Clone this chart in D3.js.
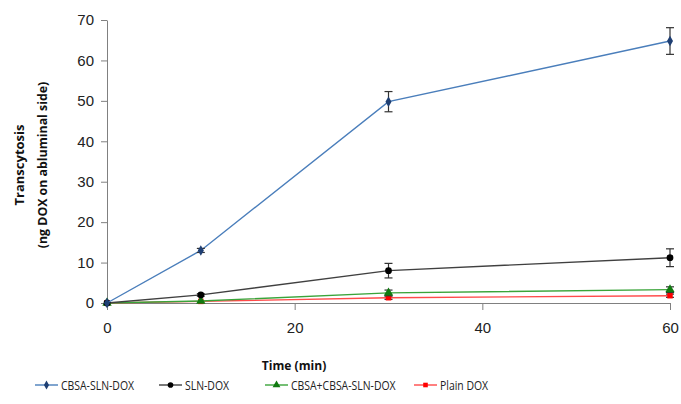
<!DOCTYPE html>
<html>
<head>
<meta charset="utf-8">
<script src="https://cdn.jsdelivr.net/npm/d3@7"></script>
<style>
	body { margin: 0; background: #fff; }
	svg { font-family: 'Open Sans', 'Liberation Sans', sans-serif; }
</style>
</head>
<body>
<div id="vis"></div>
<script>
// DATA
let times = [0, 10, 30, 60];
let seriesNames = ['CBSA-SLN-DOX', 'SLN-DOX', 'CBSA+CBSA-SLN-DOX', 'Plain DOX'];
let cbsaSlnDox = [0, 13, 49.8, 64.8],
	cbsaSlnDoxErr = [0, 0.5, 2.5, 3.3];
let slnDox = [0, 2, 8, 11.2],
	slnDoxErr = [0, 0.3, 1.8, 2.2];
let cbsaPlus = [0, 0.5, 2.5, 3.3],
	cbsaPlusErr = [0, 0.2, 0.7, 0.7];
let plainDox = [0, 0.4, 1.3, 1.8],
	plainDoxErr = [0, 0.2, 0.4, 0.4];
let xTicks = [0, 20, 40, 60];
let yTicks = [0, 10, 20, 30, 40, 50, 60, 70];

// PARAMETERS
let width = 681,
	height = 404,
	margin = { top: 20, right: 11, bottom: 101, left: 107 };

let styles = [
	{ line: '#4a7ebb', mark: '#1f3f73', shape: d3.symbolDiamond, size: 32 },
	{ line: '#404040', mark: '#000', shape: d3.symbolCircle, size: 36 },
	{ line: '#3aa43a', mark: '#117a11', shape: d3.symbolTriangle, size: 38 },
	{ line: '#ff4a4a', mark: '#f00', shape: d3.symbolSquare, size: 30 }
];

let series = [
	{ values: cbsaSlnDox, err: cbsaSlnDoxErr },
	{ values: slnDox, err: slnDoxErr },
	{ values: cbsaPlus, err: cbsaPlusErr },
	{ values: plainDox, err: plainDoxErr }
];

// SCALES
let x = d3.scaleLinear().domain([0, 60]).range([margin.left, width - margin.right]),
	y = d3.scaleLinear().domain([0, 70]).range([height - margin.bottom, margin.top]);

let svg = d3.select('#vis').append('svg').attr('width', width).attr('height', height);

// AXES
let xAxis = svg.append('g')
	.attr('transform', `translate(0, ${y(0)})`)
	.call(d3.axisBottom(x).tickValues(xTicks).tickSize(7).tickSizeOuter(0).tickPadding(12));
let yAxis = svg.append('g')
	.attr('transform', `translate(${x(0)}, 0)`)
	.call(d3.axisLeft(y).tickValues(yTicks).tickSize(6).tickSizeOuter(0).tickPadding(7));

[xAxis, yAxis].forEach(g => {
	g.select('.domain').attr('stroke', '#808080');
	g.selectAll('.tick line').attr('stroke', '#808080');
	g.selectAll('.tick text').attr('fill', '#222').style('font-size', '15px');
});

// LINES
let line = d3.line().x((d, i) => x(times[i])).y(d => y(d));

series.slice().reverse().forEach((s, ri) => {
	let k = series.length - 1 - ri,
		st = styles[k];
	let g = svg.append('g');

	g.append('path')
		.datum(s.values)
		.attr('fill', 'none')
		.attr('stroke', st.line)
		.attr('stroke-width', 1.4)
		.attr('d', line);

	// ERROR BARS
	let eb = g.selectAll('.err')
		.data(s.values.map((v, i) => ({ t: times[i], v: v, e: s.err[i] })).filter(d => d.e > 0.25))
		.enter()
		.append('g')
		.attr('stroke', '#333')
		.attr('stroke-width', 1.2);
	eb.append('line')
		.attr('x1', d => x(d.t)).attr('x2', d => x(d.t))
		.attr('y1', d => y(d.v - d.e)).attr('y2', d => y(d.v + d.e));
	eb.append('line')
		.attr('x1', d => x(d.t) - 4).attr('x2', d => x(d.t) + 4)
		.attr('y1', d => y(d.v - d.e)).attr('y2', d => y(d.v - d.e));
	eb.append('line')
		.attr('x1', d => x(d.t) - 4).attr('x2', d => x(d.t) + 4)
		.attr('y1', d => y(d.v + d.e)).attr('y2', d => y(d.v + d.e));

	// MARKERS
	g.selectAll('.mark')
		.data(s.values)
		.enter()
		.append('path')
		.attr('transform', (d, i) => `translate(${x(times[i])}, ${y(d)})`)
		.attr('d', d3.symbol().type(st.shape).size(st.size))
		.attr('fill', st.mark);
});

// TITLES
let titleStyle = sel => sel
	.attr('text-anchor', 'middle')
	.style('font-size', '13px')
	.style('font-weight', 'bold')
	.attr('fill', '#111');

svg.append('text')
	.attr('transform', 'translate(24, 165) rotate(-90)')
	.call(titleStyle)
	.text('Transcytosis');
svg.append('text')
	.attr('transform', 'translate(47, 165) rotate(-90) scale(0.95, 1)')
	.call(titleStyle)
	.text('(ng DOX on abluminal side)');
svg.append('text')
	.attr('transform', 'translate(294, 370) scale(0.93, 1)')
	.call(titleStyle)
	.text('Time (min)');

// LEGEND
let legendX = [35, 159, 265, 414];
let legend = svg.selectAll('.legend')
	.data(seriesNames)
	.enter()
	.append('g')
	.attr('transform', (d, i) => `translate(${legendX[i]}, 385)`);
legend.append('line')
	.attr('x1', 0).attr('x2', 23)
	.attr('stroke', (d, i) => styles[i].line)
	.attr('stroke-width', 1.4);
legend.append('path')
	.attr('transform', 'translate(11.5, 0)')
	.attr('d', (d, i) => d3.symbol().type(styles[i].shape).size(styles[i].size * 0.7)())
	.attr('fill', (d, i) => styles[i].mark);
legend.append('text')
	.attr('transform', 'translate(26, 4.5) scale(0.87, 1)')
	.style('font-size', '12px')
	.attr('fill', '#222')
	.text(d => d);
</script>
</body>
</html>
